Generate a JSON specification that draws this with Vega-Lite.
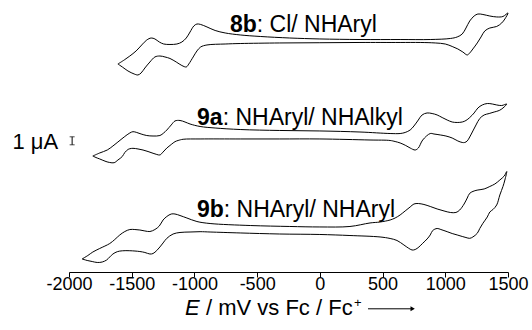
{
"$schema": "https://vega.github.io/schema/vega-lite/v6.json",
"width": 439, "height": 272,
"autosize": {"type": "none"},
"padding": {"left": 69, "top": 0, "right": 24, "bottom": 58},
"background": "white",
"config": {"view": {"stroke": null}, "font": "Liberation Sans"},
"datasets": {
"cv": [
{"s":"8b","i":0,"E":-1610,"I":26.0},{"s":"8b","i":1,"E":-1560,"I":26.5},{"s":"8b","i":2,"E":-1515,"I":27.0},{"s":"8b","i":3,"E":-1465,"I":27.63},{"s":"8b","i":4,"E":-1420,"I":28.38},{"s":"8b","i":5,"E":-1380,"I":29.0},{"s":"8b","i":6,"E":-1345,"I":29.25},{"s":"8b","i":7,"E":-1315,"I":29.13},{"s":"8b","i":8,"E":-1280,"I":28.75},{"s":"8b","i":9,"E":-1245,"I":28.5},{"s":"8b","i":10,"E":-1195,"I":28.44},{"s":"8b","i":11,"E":-1140,"I":28.5},{"s":"8b","i":12,"E":-1100,"I":28.75},{"s":"8b","i":13,"E":-1065,"I":29.25},{"s":"8b","i":14,"E":-1035,"I":30.0},{"s":"8b","i":15,"E":-1005,"I":30.75},{"s":"8b","i":16,"E":-980,"I":31.0},{"s":"8b","i":17,"E":-950,"I":30.94},{"s":"8b","i":18,"E":-900,"I":30.63},{"s":"8b","i":19,"E":-835,"I":30.19},{"s":"8b","i":20,"E":-755,"I":29.88},{"s":"8b","i":21,"E":-635,"I":29.63},{"s":"8b","i":22,"E":-475,"I":29.44},{"s":"8b","i":23,"E":-240,"I":29.25},{"s":"8b","i":24,"E":0,"I":29.13},{"s":"8b","i":25,"E":320,"I":29.06},{"s":"8b","i":26,"E":640,"I":29.06},{"s":"8b","i":27,"E":880,"I":29.06},{"s":"8b","i":28,"E":1040,"I":29.19},{"s":"8b","i":29,"E":1095,"I":29.38},{"s":"8b","i":30,"E":1135,"I":29.75},{"s":"8b","i":31,"E":1165,"I":30.5},{"s":"8b","i":32,"E":1195,"I":31.38},{"s":"8b","i":33,"E":1230,"I":32.0},{"s":"8b","i":34,"E":1260,"I":32.25},{"s":"8b","i":35,"E":1300,"I":32.19},{"s":"8b","i":36,"E":1355,"I":32.0},{"s":"8b","i":37,"E":1410,"I":31.88},{"s":"8b","i":38,"E":1460,"I":31.94},{"s":"8b","i":39,"E":1500,"I":32.38},{"s":"8b","i":40,"E":1475,"I":31.63},{"s":"8b","i":41,"E":1450,"I":31.13},{"s":"8b","i":42,"E":1410,"I":30.69},{"s":"8b","i":43,"E":1355,"I":30.5},{"s":"8b","i":44,"E":1315,"I":30.13},{"s":"8b","i":45,"E":1285,"I":29.38},{"s":"8b","i":46,"E":1255,"I":28.63},{"s":"8b","i":47,"E":1220,"I":27.88},{"s":"8b","i":48,"E":1195,"I":27.38},{"s":"8b","i":49,"E":1175,"I":27.13},{"s":"8b","i":50,"E":1140,"I":27.5},{"s":"8b","i":51,"E":1100,"I":27.88},{"s":"8b","i":52,"E":1055,"I":28.19},{"s":"8b","i":53,"E":1000,"I":28.5},{"s":"8b","i":54,"E":920,"I":28.63},{"s":"8b","i":55,"E":800,"I":28.69},{"s":"8b","i":56,"E":640,"I":28.69},{"s":"8b","i":57,"E":320,"I":28.69},{"s":"8b","i":58,"E":0,"I":28.66},{"s":"8b","i":59,"E":-320,"I":28.63},{"s":"8b","i":60,"E":-635,"I":28.56},{"s":"8b","i":61,"E":-755,"I":28.5},{"s":"8b","i":62,"E":-900,"I":28.38},{"s":"8b","i":63,"E":-950,"I":28.13},{"s":"8b","i":64,"E":-980,"I":27.63},{"s":"8b","i":65,"E":-1010,"I":26.88},{"s":"8b","i":66,"E":-1045,"I":26.0},{"s":"8b","i":67,"E":-1065,"I":25.63},{"s":"8b","i":68,"E":-1100,"I":25.81},{"s":"8b","i":69,"E":-1145,"I":26.25},{"s":"8b","i":70,"E":-1195,"I":26.69},{"s":"8b","i":71,"E":-1235,"I":26.88},{"s":"8b","i":72,"E":-1275,"I":27.0},{"s":"8b","i":73,"E":-1315,"I":26.88},{"s":"8b","i":74,"E":-1355,"I":26.25},{"s":"8b","i":75,"E":-1395,"I":25.5},{"s":"8b","i":76,"E":-1425,"I":24.88},{"s":"8b","i":77,"E":-1450,"I":24.63},{"s":"8b","i":78,"E":-1480,"I":24.75},{"s":"8b","i":79,"E":-1530,"I":25.13},{"s":"8b","i":80,"E":-1575,"I":25.63},{"s":"8b","i":81,"E":-1610,"I":26.0},
{"s":"9a","i":0,"E":-1810,"I":14.5},{"s":"9a","i":1,"E":-1755,"I":14.88},{"s":"9a","i":2,"E":-1695,"I":15.25},{"s":"9a","i":3,"E":-1650,"I":15.75},{"s":"9a","i":4,"E":-1610,"I":16.25},{"s":"9a","i":5,"E":-1560,"I":16.88},{"s":"9a","i":6,"E":-1515,"I":17.38},{"s":"9a","i":7,"E":-1490,"I":17.54},{"s":"9a","i":8,"E":-1460,"I":17.44},{"s":"9a","i":9,"E":-1425,"I":17.25},{"s":"9a","i":10,"E":-1380,"I":17.06},{"s":"9a","i":11,"E":-1330,"I":17.0},{"s":"9a","i":12,"E":-1275,"I":17.06},{"s":"9a","i":13,"E":-1245,"I":17.38},{"s":"9a","i":14,"E":-1220,"I":17.75},{"s":"9a","i":15,"E":-1185,"I":18.38},{"s":"9a","i":16,"E":-1155,"I":18.88},{"s":"9a","i":17,"E":-1115,"I":18.94},{"s":"9a","i":18,"E":-1075,"I":18.75},{"s":"9a","i":19,"E":-1035,"I":18.5},{"s":"9a","i":20,"E":-955,"I":18.19},{"s":"9a","i":21,"E":-835,"I":18.0},{"s":"9a","i":22,"E":-635,"I":17.81},{"s":"9a","i":23,"E":-320,"I":17.69},{"s":"9a","i":24,"E":0,"I":17.63},{"s":"9a","i":25,"E":320,"I":17.5},{"s":"9a","i":26,"E":560,"I":17.31},{"s":"9a","i":27,"E":640,"I":17.31},{"s":"9a","i":28,"E":680,"I":17.44},{"s":"9a","i":29,"E":720,"I":17.75},{"s":"9a","i":30,"E":750,"I":18.25},{"s":"9a","i":31,"E":785,"I":19.0},{"s":"9a","i":32,"E":815,"I":19.63},{"s":"9a","i":33,"E":855,"I":19.88},{"s":"9a","i":34,"E":895,"I":19.81},{"s":"9a","i":35,"E":935,"I":19.63},{"s":"9a","i":36,"E":975,"I":19.31},{"s":"9a","i":37,"E":1015,"I":19.0},{"s":"9a","i":38,"E":1055,"I":18.75},{"s":"9a","i":39,"E":1095,"I":18.69},{"s":"9a","i":40,"E":1135,"I":18.75},{"s":"9a","i":41,"E":1165,"I":18.94},{"s":"9a","i":42,"E":1195,"I":19.31},{"s":"9a","i":43,"E":1230,"I":19.88},{"s":"9a","i":44,"E":1260,"I":20.5},{"s":"9a","i":45,"E":1295,"I":20.88},{"s":"9a","i":46,"E":1335,"I":21.06},{"s":"9a","i":47,"E":1375,"I":21.0},{"s":"9a","i":48,"E":1410,"I":20.88},{"s":"9a","i":49,"E":1450,"I":20.81},{"s":"9a","i":50,"E":1490,"I":21.0},{"s":"9a","i":51,"E":1460,"I":20.5},{"s":"9a","i":52,"E":1430,"I":20.19},{"s":"9a","i":53,"E":1390,"I":20.0},{"s":"9a","i":54,"E":1350,"I":19.81},{"s":"9a","i":55,"E":1310,"I":19.63},{"s":"9a","i":56,"E":1275,"I":19.19},{"s":"9a","i":57,"E":1245,"I":18.38},{"s":"9a","i":58,"E":1220,"I":17.63},{"s":"9a","i":59,"E":1195,"I":16.88},{"s":"9a","i":60,"E":1175,"I":16.38},{"s":"9a","i":61,"E":1155,"I":16.19},{"s":"9a","i":62,"E":1135,"I":16.19},{"s":"9a","i":63,"E":1100,"I":16.38},{"s":"9a","i":64,"E":1055,"I":16.75},{"s":"9a","i":65,"E":1005,"I":17.0},{"s":"9a","i":66,"E":960,"I":17.13},{"s":"9a","i":67,"E":910,"I":17.25},{"s":"9a","i":68,"E":880,"I":17.31},{"s":"9a","i":69,"E":820,"I":16.5},{"s":"9a","i":70,"E":785,"I":15.5},{"s":"9a","i":71,"E":760,"I":15.25},{"s":"9a","i":72,"E":720,"I":15.5},{"s":"9a","i":73,"E":685,"I":15.81},{"s":"9a","i":74,"E":640,"I":16.13},{"s":"9a","i":75,"E":600,"I":16.31},{"s":"9a","i":76,"E":560,"I":16.44},{"s":"9a","i":77,"E":400,"I":16.5},{"s":"9a","i":78,"E":0,"I":16.63},{"s":"9a","i":79,"E":-320,"I":16.63},{"s":"9a","i":80,"E":-635,"I":16.63},{"s":"9a","i":81,"E":-955,"I":16.63},{"s":"9a","i":82,"E":-1090,"I":16.59},{"s":"9a","i":83,"E":-1130,"I":16.44},{"s":"9a","i":84,"E":-1155,"I":16.29},{"s":"9a","i":85,"E":-1185,"I":15.94},{"s":"9a","i":86,"E":-1220,"I":15.5},{"s":"9a","i":87,"E":-1250,"I":15.0},{"s":"9a","i":88,"E":-1275,"I":14.63},{"s":"9a","i":89,"E":-1300,"I":14.69},{"s":"9a","i":90,"E":-1330,"I":14.84},{"s":"9a","i":91,"E":-1370,"I":15.06},{"s":"9a","i":92,"E":-1410,"I":15.25},{"s":"9a","i":93,"E":-1450,"I":15.38},{"s":"9a","i":94,"E":-1490,"I":15.46},{"s":"9a","i":95,"E":-1515,"I":15.41},{"s":"9a","i":96,"E":-1530,"I":15.31},{"s":"9a","i":97,"E":-1555,"I":14.94},{"s":"9a","i":98,"E":-1575,"I":14.44},{"s":"9a","i":99,"E":-1610,"I":14.0},{"s":"9a","i":100,"E":-1640,"I":13.66},{"s":"9a","i":101,"E":-1675,"I":13.69},{"s":"9a","i":102,"E":-1705,"I":13.81},{"s":"9a","i":103,"E":-1755,"I":14.13},{"s":"9a","i":104,"E":-1785,"I":14.31},{"s":"9a","i":105,"E":-1810,"I":14.5},
{"s":"9b","i":0,"E":-1895,"I":1.63},{"s":"9b","i":1,"E":-1850,"I":2.06},{"s":"9b","i":2,"E":-1810,"I":2.5},{"s":"9b","i":3,"E":-1755,"I":2.94},{"s":"9b","i":4,"E":-1675,"I":3.56},{"s":"9b","i":5,"E":-1635,"I":4.06},{"s":"9b","i":6,"E":-1595,"I":4.63},{"s":"9b","i":7,"E":-1555,"I":5.06},{"s":"9b","i":8,"E":-1515,"I":5.31},{"s":"9b","i":9,"E":-1475,"I":5.31},{"s":"9b","i":10,"E":-1435,"I":5.25},{"s":"9b","i":11,"E":-1395,"I":5.13},{"s":"9b","i":12,"E":-1355,"I":5.06},{"s":"9b","i":13,"E":-1315,"I":5.31},{"s":"9b","i":14,"E":-1280,"I":5.75},{"s":"9b","i":15,"E":-1250,"I":6.5},{"s":"9b","i":16,"E":-1220,"I":6.94},{"s":"9b","i":17,"E":-1185,"I":7.25},{"s":"9b","i":18,"E":-1155,"I":7.25},{"s":"9b","i":19,"E":-1115,"I":7.06},{"s":"9b","i":20,"E":-1060,"I":6.75},{"s":"9b","i":21,"E":-980,"I":6.31},{"s":"9b","i":22,"E":-875,"I":6.06},{"s":"9b","i":23,"E":-555,"I":5.81},{"s":"9b","i":24,"E":-240,"I":5.69},{"s":"9b","i":25,"E":0,"I":5.63},{"s":"9b","i":26,"E":240,"I":5.69},{"s":"9b","i":27,"E":400,"I":6.13},{"s":"9b","i":28,"E":480,"I":6.25},{"s":"9b","i":29,"E":560,"I":6.5},{"s":"9b","i":30,"E":600,"I":6.75},{"s":"9b","i":31,"E":640,"I":7.13},{"s":"9b","i":32,"E":680,"I":7.63},{"s":"9b","i":33,"E":720,"I":8.13},{"s":"9b","i":34,"E":750,"I":8.5},{"s":"9b","i":35,"E":785,"I":8.56},{"s":"9b","i":36,"E":830,"I":8.44},{"s":"9b","i":37,"E":880,"I":8.19},{"s":"9b","i":38,"E":935,"I":7.88},{"s":"9b","i":39,"E":990,"I":7.63},{"s":"9b","i":40,"E":1040,"I":7.44},{"s":"9b","i":41,"E":1085,"I":7.44},{"s":"9b","i":42,"E":1115,"I":7.75},{"s":"9b","i":43,"E":1150,"I":8.5},{"s":"9b","i":44,"E":1175,"I":9.25},{"s":"9b","i":45,"E":1195,"I":9.84},{"s":"9b","i":46,"E":1230,"I":10.13},{"s":"9b","i":47,"E":1260,"I":10.25},{"s":"9b","i":48,"E":1310,"I":10.38},{"s":"9b","i":49,"E":1355,"I":10.69},{"s":"9b","i":50,"E":1395,"I":11.0},{"s":"9b","i":51,"E":1435,"I":11.5},{"s":"9b","i":52,"E":1470,"I":12.0},{"s":"9b","i":53,"E":1490,"I":12.56},{"s":"9b","i":54,"E":1475,"I":11.5},{"s":"9b","i":55,"E":1460,"I":10.69},{"s":"9b","i":56,"E":1435,"I":9.63},{"s":"9b","i":57,"E":1410,"I":8.38},{"s":"9b","i":58,"E":1380,"I":7.81},{"s":"9b","i":59,"E":1355,"I":7.5},{"s":"9b","i":60,"E":1335,"I":6.88},{"s":"9b","i":61,"E":1300,"I":6.09},{"s":"9b","i":62,"E":1275,"I":5.44},{"s":"9b","i":63,"E":1255,"I":4.84},{"s":"9b","i":64,"E":1220,"I":4.38},{"s":"9b","i":65,"E":1195,"I":4.21},{"s":"9b","i":66,"E":1165,"I":4.31},{"s":"9b","i":67,"E":1135,"I":4.44},{"s":"9b","i":68,"E":1095,"I":4.63},{"s":"9b","i":69,"E":1055,"I":4.81},{"s":"9b","i":70,"E":1015,"I":5.04},{"s":"9b","i":71,"E":965,"I":5.31},{"s":"9b","i":72,"E":935,"I":5.44},{"s":"9b","i":73,"E":900,"I":5.19},{"s":"9b","i":74,"E":880,"I":4.63},{"s":"9b","i":75,"E":855,"I":4.13},{"s":"9b","i":76,"E":820,"I":3.59},{"s":"9b","i":77,"E":790,"I":3.13},{"s":"9b","i":78,"E":760,"I":2.81},{"s":"9b","i":79,"E":735,"I":2.75},{"s":"9b","i":80,"E":705,"I":3.0},{"s":"9b","i":81,"E":670,"I":3.38},{"s":"9b","i":82,"E":615,"I":3.94},{"s":"9b","i":83,"E":560,"I":4.19},{"s":"9b","i":84,"E":480,"I":4.38},{"s":"9b","i":85,"E":240,"I":4.56},{"s":"9b","i":86,"E":0,"I":4.69},{"s":"9b","i":87,"E":-320,"I":4.75},{"s":"9b","i":88,"E":-635,"I":4.88},{"s":"9b","i":89,"E":-875,"I":5.0},{"s":"9b","i":90,"E":-955,"I":5.04},{"s":"9b","i":91,"E":-1035,"I":5.0},{"s":"9b","i":92,"E":-1115,"I":4.94},{"s":"9b","i":93,"E":-1170,"I":4.75},{"s":"9b","i":94,"E":-1220,"I":4.21},{"s":"9b","i":95,"E":-1250,"I":3.63},{"s":"9b","i":96,"E":-1275,"I":3.13},{"s":"9b","i":97,"E":-1300,"I":2.69},{"s":"9b","i":98,"E":-1330,"I":2.31},{"s":"9b","i":99,"E":-1355,"I":2.25},{"s":"9b","i":100,"E":-1395,"I":2.44},{"s":"9b","i":101,"E":-1435,"I":2.56},{"s":"9b","i":102,"E":-1515,"I":2.66},{"s":"9b","i":103,"E":-1575,"I":2.65},{"s":"9b","i":104,"E":-1615,"I":2.54},{"s":"9b","i":105,"E":-1650,"I":2.25},{"s":"9b","i":106,"E":-1675,"I":1.88},{"s":"9b","i":107,"E":-1700,"I":1.5},{"s":"9b","i":108,"E":-1735,"I":1.25},{"s":"9b","i":109,"E":-1775,"I":1.19},{"s":"9b","i":110,"E":-1815,"I":1.31},{"s":"9b","i":111,"E":-1855,"I":1.44},{"s":"9b","i":112,"E":-1895,"I":1.63}
],
"labels": [
{"E":-503,"I":30.04,"id":"8b","desc":": Cl/ NHAryl"},
{"E":-775,"I":18.4,"id":"9a","desc":": NHAryl/ NHAlkyl"},
{"E":-766,"I":6.91,"id":"9b","desc":": NHAryl/ NHAryl"}
],
"bar": [{"E":-1975,"I":15.9},{"E":-1975,"I":16.9}],
"one": [{}]
},
"layer": [
{
"data": {"name": "cv"},
"mark": {"type": "line", "color": "black", "strokeWidth": 1, "interpolate": "catmull-rom"},
"encoding": {
"x": {"field": "E", "type": "quantitative", "scale": {"domain": [-2000, 1500], "nice": false, "zero": false},
"axis": {"values": [-2000,-1750,-1500,-1250,-1000,-750,-500,-250,0,250,500,750,1000,1250,1500],
"labelExpr": "datum.value % 500 === 0 ? '' + datum.value : ''",
"title": null, "grid": false, "domainColor": "black", "domainWidth": 1, "tickColor": "black", "tickWidth": 1,
"tickSize": {"condition": {"test": "datum.value % 500 === 0", "value": 5}, "value": 3},
"labelFontSize": 18, "labelColor": "black", "labelFont": "Liberation Sans", "labelPadding": -2,
"labelOverlap": false, "labelFlush": false, "labelBound": false}},
"y": {"field": "I", "type": "quantitative", "scale": {"domain": [0, 34], "nice": false, "zero": false},
"axis": {"domain": false, "ticks": false, "labels": false, "grid": false,
"title": "1 μA", "titleAngle": 0, "titleX": -57, "titleY": 148, "titleAlign": "left", "titleBaseline": "alphabetic",
"titleFontSize": 22, "titleFontWeight": "normal", "titleColor": "black", "titleFont": "Liberation Sans"}},
"order": {"field": "i", "type": "quantitative"},
"detail": {"field": "s", "type": "nominal"}
}
},
{
"data": {"name": "labels"},
"mark": {"type": "text", "align": "right", "baseline": "alphabetic", "fontSize": 23, "fontWeight": "bold", "color": "black", "font": "Liberation Sans"},
"encoding": {"x": {"field": "E", "type": "quantitative"}, "y": {"field": "I", "type": "quantitative"}, "text": {"field": "id"}}
},
{
"data": {"name": "labels"},
"mark": {"type": "text", "align": "left", "baseline": "alphabetic", "fontSize": 23, "color": "black", "font": "Liberation Sans"},
"encoding": {"x": {"field": "E", "type": "quantitative"}, "y": {"field": "I", "type": "quantitative"}, "text": {"field": "desc"}}
},
{
"data": {"name": "bar"},
"mark": {"type": "rule", "color": "black", "strokeWidth": 1},
"encoding": {"x": {"aggregate": "min", "field": "E", "type": "quantitative"}, "y": {"aggregate": "min", "field": "I", "type": "quantitative"}, "y2": {"aggregate": "max", "field": "I"}}
},
{
"data": {"name": "bar"},
"mark": {"type": "tick", "orient": "horizontal", "color": "black", "size": 5, "thickness": 1},
"encoding": {"x": {"field": "E", "type": "quantitative"}, "y": {"field": "I", "type": "quantitative"}}
},
{
"data": {"name": "one"},
"mark": {"type": "text", "align": "left", "baseline": "alphabetic", "fontSize": 22, "fontStyle": "italic", "color": "black", "font": "Liberation Sans"},
"encoding": {"x": {"datum": -1075}, "y": {"datum": -5.375}, "text": {"value": "E"}}
},
{
"data": {"name": "one"},
"mark": {"type": "text", "align": "left", "baseline": "alphabetic", "fontSize": 22, "color": "black", "font": "Liberation Sans"},
"encoding": {"x": {"datum": -908}, "y": {"datum": -5.375}, "text": {"value": "/ mV vs Fc / Fc"}}
},
{
"data": {"name": "one"},
"mark": {"type": "text", "align": "left", "baseline": "alphabetic", "fontSize": 13, "color": "black", "font": "Liberation Sans"},
"encoding": {"x": {"datum": 272}, "y": {"datum": -4.4}, "text": {"value": "+"}}
},
{
"data": {"name": "one"},
"mark": {"type": "rule", "color": "black", "strokeWidth": 1},
"encoding": {"x": {"datum": 384}, "x2": {"datum": 735}, "y": {"datum": -4.6}}
},
{
"data": {"name": "one"},
"mark": {"type": "point", "shape": "triangle-right", "filled": true, "color": "black", "size": 25, "opacity": 1},
"encoding": {"x": {"datum": 740}, "y": {"datum": -4.6}}
}
]
}
